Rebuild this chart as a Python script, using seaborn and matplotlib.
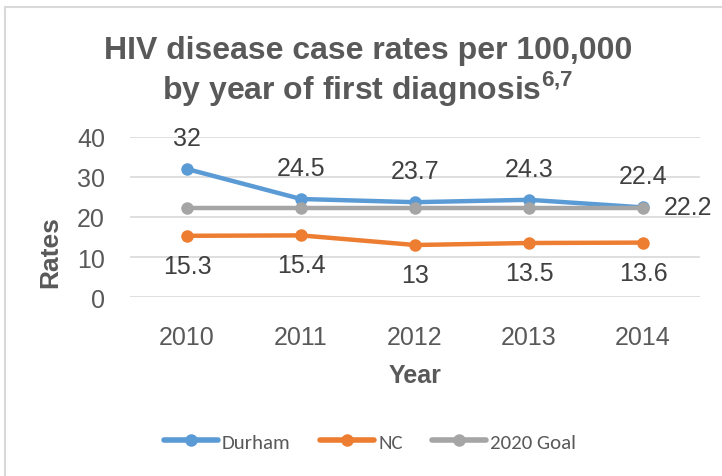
import matplotlib
matplotlib.use("Agg")
import matplotlib.pyplot as plt
from matplotlib.lines import Line2D
import pandas as pd
import seaborn as sns

YEARS = ["2010", "2011", "2012", "2013", "2014"]
DURHAM = [32, 24.5, 23.7, 24.3, 22.4]
NC = [15.3, 15.4, 13, 13.5, 13.6]
GOAL = [22.2, 22.2, 22.2, 22.2, 22.2]
SERIES = ["Durham", "NC", "2020 Goal"]
COLORS = {"Durham": "#5B9BD5", "NC": "#ED7D31", "2020 Goal": "#A5A5A5"}

df = pd.concat([
    pd.DataFrame({"Year": YEARS, "Rate": vals, "Series": name})
    for name, vals in zip(SERIES, [DURHAM, NC, GOAL])
], ignore_index=True)

sns.set_theme(style="white")
plt.rcParams["font.family"] = ["Liberation Sans", "DejaVu Sans"]
plt.rcParams["mathtext.fontset"] = "custom"
plt.rcParams["mathtext.bf"] = "Liberation Sans:bold"
plt.rcParams["mathtext.rm"] = "Liberation Sans"

fig = plt.figure(figsize=(7.22, 4.77), dpi=100)
ax = fig.add_axes([130 / 722, 1 - 298 / 477, 570 / 722, 160 / 477])

sns.lineplot(data=df, x="Year", y="Rate", hue="Series", hue_order=SERIES,
             palette=COLORS, marker="o", markersize=9, markeredgewidth=0,
             linewidth=3.2, ax=ax, legend=False, sort=False)

ax.set_ylim(0, 40)
ax.set_xlim(-0.5, 4.5)
ax.set_yticks([0, 10, 20, 30, 40])
ax.yaxis.grid(True, color="#D9D9D9", linewidth=1.2)
ax.set_axisbelow(True)
for s in ax.spines.values():
    s.set_visible(False)
ax.tick_params(axis="both", length=0, labelsize=18, labelcolor="#595959")
ax.tick_params(axis="x", pad=20)
ax.tick_params(axis="y", pad=18)
ax.set_xlabel("Year", fontsize=18, fontweight="bold", color="#595959", va="center")
ax.set_ylabel("Rates", fontsize=19, fontweight="bold", color="#595959", va="center")
ax.xaxis.set_label_coords(0.5, (298 - 376) / 160)
ax.yaxis.set_label_coords((50 - 130) / 570, (298 - 252) / 160)

lab = dict(fontsize=18, color="#404040", ha="center", va="center")
for i, v in enumerate(DURHAM):
    ax.annotate(f"{v:g}", (i, v), xytext=(0, 31), textcoords="offset pixels", **lab)
for i, v in enumerate(NC):
    ax.annotate(f"{v:g}", (i, v), xytext=(0, -30), textcoords="offset pixels", **lab)
ax.annotate(f"{GOAL[-1]:g}", (4, GOAL[-1]), xytext=(45, 1), textcoords="offset pixels", **lab)

fig.text(368 / 722, 1 - 51 / 477, "HIV disease case rates per 100,000",
         ha="center", va="center", fontsize=23, fontweight="bold", color="#595959")
fig.text(368 / 722, 1 - 89 / 477, r"by year of first diagnosis$^{\mathbf{6{,}7}}$",
         ha="center", va="center", fontsize=23, fontweight="bold", color="#595959")

handles = [Line2D([0], [0], color=COLORS[s], lw=4, marker="o", markersize=9,
                  markeredgewidth=0) for s in SERIES]
fig.legend(handles, SERIES, loc="center", bbox_to_anchor=(370 / 722, 1 - 443 / 477),
           ncol=3, frameon=False, labelcolor="#595959",
           handlelength=2.6, handletextpad=0.2, columnspacing=1.4,
           prop={"family": ["Carlito", "Liberation Sans"], "size": 15})

# partial chart border (top and left visible)
fig.add_artist(Line2D([5 / 722, 5 / 722], [0, 1 - 8 / 477], color="#D9D9D9",
                      lw=1.5, transform=fig.transFigure))
fig.add_artist(Line2D([5 / 722, 1], [1 - 8 / 477, 1 - 8 / 477], color="#D9D9D9",
                      lw=1.5, transform=fig.transFigure))

fig.savefig("out.png", dpi=100)
